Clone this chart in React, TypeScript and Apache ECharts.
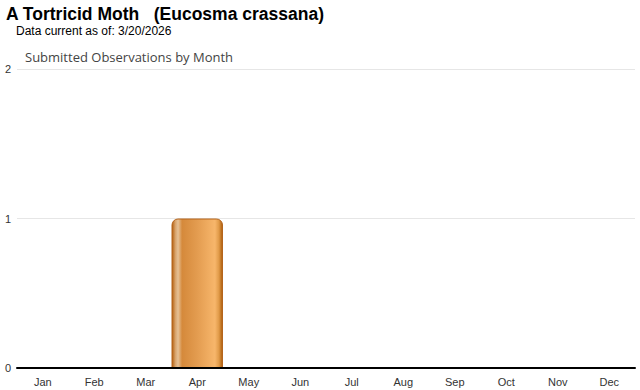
import React, { useEffect, useRef } from "react";
import * as echarts from "echarts";

const months = ["Jan", "Feb", "Mar", "Apr", "May", "Jun", "Jul", "Aug", "Sep", "Oct", "Nov", "Dec"];
const observations = [0, 0, 0, 1, 0, 0, 0, 0, 0, 0, 0, 0];
const yTicks = { min: 0, max: 2, interval: 1 };

const titleText = "A Tortricid Moth   (Eucosma crassana)";
const subtitleText = "Data current as of: 3/20/2026";
const chartLabel = "Submitted Observations by Month";

export default function App() {
  const ref = useRef<HTMLDivElement>(null);
  useEffect(() => {
    if (!ref.current) return;
    const chart = echarts.init(ref.current, undefined, { renderer: "svg" });
    const barGradient = new echarts.graphic.LinearGradient(0, 0, 1, 0, [
      { offset: 0, color: "#b4600f" },
      { offset: 0.07, color: "#d9a56e" },
      { offset: 0.12, color: "#e6c196" },
      { offset: 0.2, color: "#d5893b" },
      { offset: 0.5, color: "#e39c50" },
      { offset: 0.85, color: "#f7b66b" },
      { offset: 0.93, color: "#e09a48" },
      { offset: 1, color: "#ac5c0c" },
    ]);
    const barData = observations.map((v) =>
      v === 0 ? { value: v, itemStyle: { borderWidth: 0, opacity: 0 } } : { value: v }
    );
    chart.setOption({
      animation: false,
      backgroundColor: "#ffffff",
      grid: { left: 17, right: 5, top: 69, bottom: 22, containLabel: false },
      graphic: [
        {
          type: "text",
          left: 6,
          top: 5,
          style: {
            text: titleText,
            font: "bold 17.5px 'Liberation Sans', Arial, sans-serif",
            fill: "#000",
          },
        },
        {
          type: "text",
          left: 16,
          top: 25,
          style: {
            text: subtitleText,
            font: "12px 'Liberation Sans', Arial, sans-serif",
            fill: "#000",
          },
        },
        {
          type: "text",
          left: 25,
          top: 50,
          style: {
            text: chartLabel,
            font: "13px 'Open Sans', sans-serif",
            fill: "#444",
          },
        },
      ],
      xAxis: {
        type: "category",
        data: months,
        z: 5,
        axisLine: { lineStyle: { color: "#000", width: 2 } },
        axisTick: { alignWithLabel: true, length: 4, lineStyle: { color: "#aaa" } },
        axisLabel: {
          color: "#333",
          fontSize: 11,
          margin: 8,
          fontFamily: "'Liberation Sans', Arial, sans-serif",
        },
      },
      yAxis: {
        type: "value",
        min: yTicks.min,
        max: yTicks.max,
        interval: yTicks.interval,
        axisLine: { show: false },
        axisTick: { show: false },
        splitLine: { lineStyle: { color: "#e6e6e6", width: 1 } },
        axisLabel: {
          color: "#333",
          fontSize: 11,
          margin: 6,
          fontFamily: "'Liberation Sans', Arial, sans-serif",
        },
      },
      series: [
        {
          type: "bar",
          data: barData,
          barWidth: "100%",
          itemStyle: {
            color: barGradient,
            borderColor: "#b5651d",
            borderWidth: 1,
            borderRadius: [6, 6, 0, 0],
          },
        },
      ],
    });
    return () => chart.dispose();
  }, []);
  return (
    <div
      ref={ref}
      style={{ position: "fixed", left: 0, top: 0, width: 640, height: 390 }}
    />
  );
}
